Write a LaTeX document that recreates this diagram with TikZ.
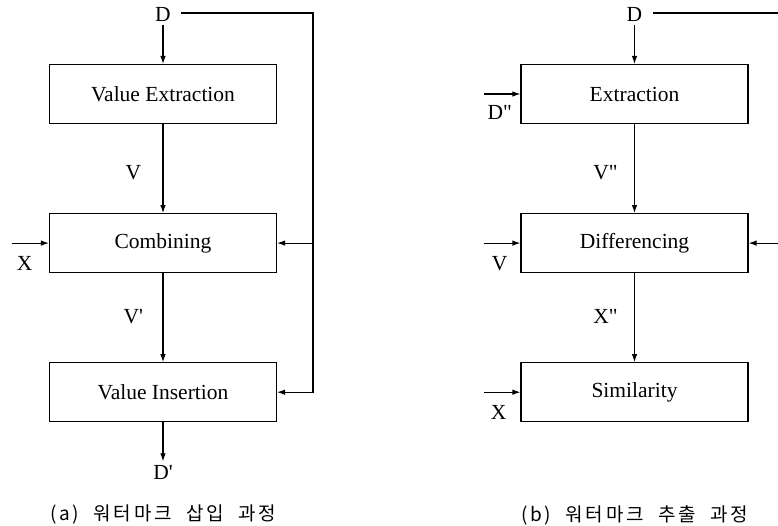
\documentclass[tikz,border=0pt]{standalone}
\usepackage{fontspec}
\setmainfont{Liberation Serif}
\newfontfamily\kr[LetterSpace=15,WordSpace=2]{Noto Sans CJK KR}
\usepackage{tikz}
\usetikzlibrary{arrows.meta,positioning}
\newcommand{\diagfont}{\fontsize{21.5}{25}\selectfont}
\newcommand{\capfont}{\fontsize{19}{22}\selectfont\kr}
\tikzset{
  procbox/.style={
    rectangle,
    draw=black,
    line width=1.1pt,
    minimum width=227pt,
    minimum height=59pt,
    align=center,
    font=\diagfont
  },
  wire/.style={line width=1.1pt, black},
  flow/.style={-{Latex[length=8pt,width=5.5pt]}, line width=1.1pt, black}
}

\begin{document}
\begin{tikzpicture}[x=1pt,y=-1pt,node distance=89pt,font=\diagfont]
\useasboundingbox (0,0) rectangle (778,526);
% (a) embedding
\node[procbox] (extA) at (163,94) {Value Extraction};
\node[procbox, below=of extA] (combA) {Combining};
\node[procbox, below=of combA] (insA) {Value Insertion};
\node (dA) at (163,14) {D};
\node (dpA) at (163,472) {D\textquotesingle};
\coordinate (fbA) at (313,13);
\coordinate (xinA) at (12,0);
\draw[flow] (dA) -- (extA);
\draw[flow] (extA) -- node[pos=0.55,left=18pt]{V} (combA);
\draw[flow] (combA) -- node[pos=0.49,left=16pt]{V\textquotesingle} (insA);
\draw[flow] (insA) -- (dpA);
\draw[flow] ([xshift=7pt]dA.east |- fbA) -- (fbA) |- (insA.east);
\draw[flow] (fbA |- combA.east) -- (combA.east);
\draw[flow] (xinA |- combA.west) -- node[pos=0.34,below=9pt]{X} (combA.west);
\node (capA) at (163,515) {\capfont (a) 워터마크 삽입 과정};
% (b) extraction
\node[procbox] (extB) at (634.5,94) {Extraction};
\node[procbox, below=of extB] (diffB) {Differencing};
\node[procbox, below=of diffB] (simB) {Similarity};
\node (dB) at (634.5,14) {D};
\coordinate (fbB) at (778,13);
\coordinate (xinB) at (484,0);
\draw[flow] (dB) -- (extB);
\draw[flow] (extB) -- node[pos=0.55,left=13pt]{V\textquotedbl} (diffB);
\draw[flow] (diffB) -- node[pos=0.49,left=13pt]{X\textquotedbl} (simB);
\draw[wire] ([xshift=7pt]dB.east |- fbB) -- (fbB);
\draw[flow] (fbB |- diffB.east) -- (diffB.east);
\draw[flow] (xinB |- extB.west) -- node[pos=0.43,below=8pt]{D\textquotedbl} (extB.west);
\draw[flow] (xinB |- diffB.west) -- node[pos=0.43,below=9pt]{V} (diffB.west);
\draw[flow] (xinB |- simB.west) -- node[pos=0.4,below=9pt]{X} (simB.west);
\node (capB) at (634.5,515) {\capfont (b) 워터마크 추출 과정};
\end{tikzpicture}
\end{document}
